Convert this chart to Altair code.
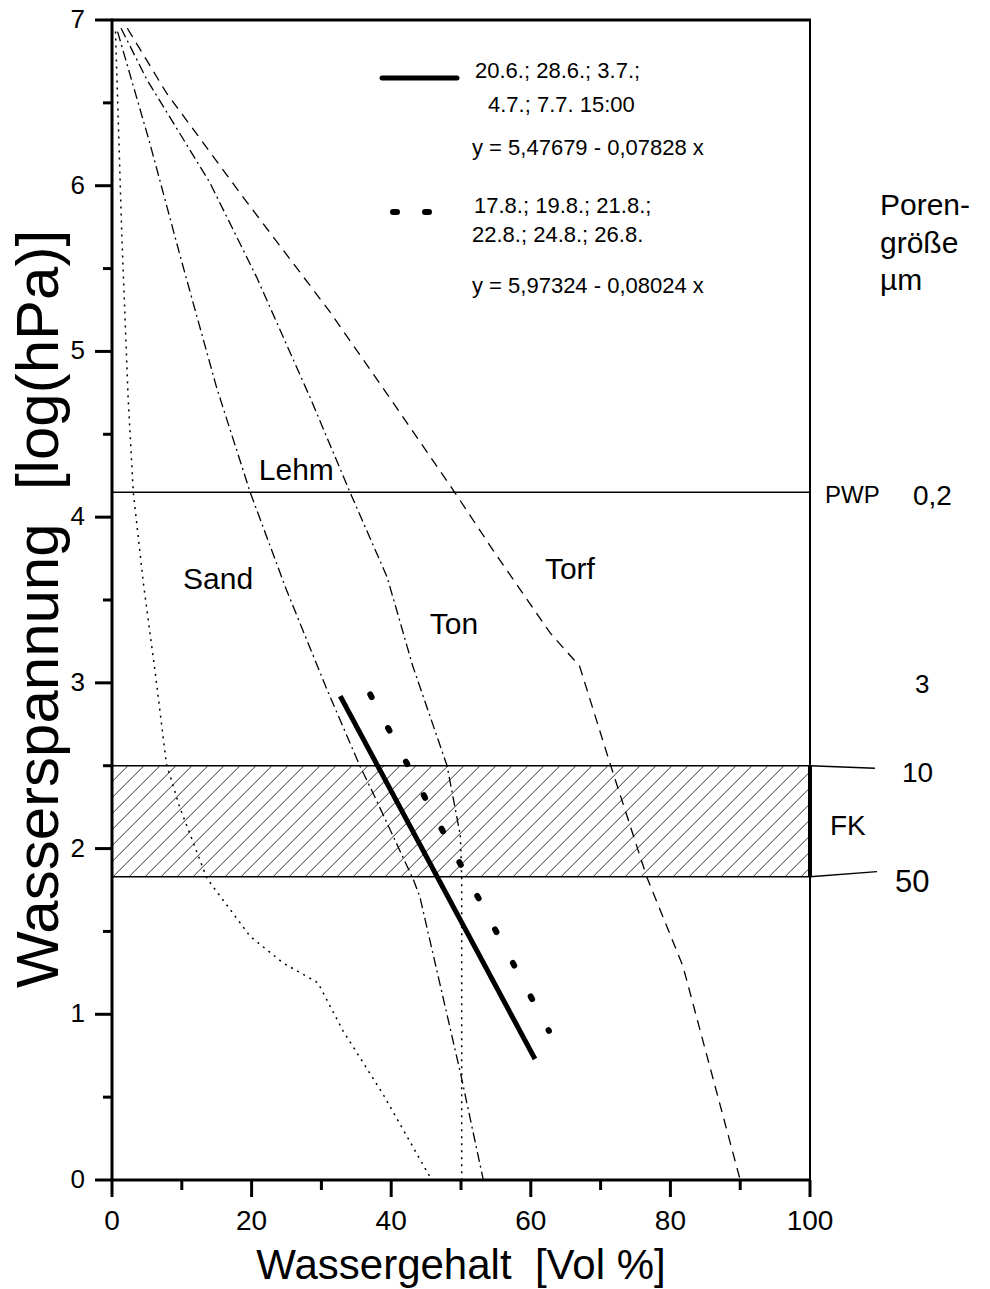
import altair as alt
import pandas as pd
import numpy as np

FONT = "Liberation Sans"

# ---- soil water retention curves (Wassergehalt [Vol %], log(hPa)) ----
sand_x = [0.5, 1.4, 2.3, 3.05, 4.5, 6.2, 7.8, 9.7, 13.6, 19.8, 24.5, 29.5, 33.1, 38.8, 45.8]
sand_y = [6.93, 5.71, 4.73, 4.15, 3.6, 3.06, 2.51, 2.25, 1.82, 1.47, 1.31, 1.19, 0.9, 0.52, 0.0]
lehm_x = [0.8, 5.4, 10.0, 15.0, 19.8, 25.0, 30.8, 35.5, 37.9, 43.2, 44.1, 49.9, 53.2]
lehm_y = [6.93, 6.26, 5.54, 4.78, 4.15, 3.56, 2.96, 2.5, 2.29, 1.81, 1.71, 0.65, 0.0]
ton_x = [1.3, 5.0, 14.0, 20.7, 28.4, 34.1, 39.4, 43.1, 48.0, 49.9]
ton_y = [6.95, 6.64, 6.02, 5.45, 4.72, 4.15, 3.64, 3.1, 2.5, 2.08]
ton_tail_x = [49.9, 50.1, 50.1]
ton_tail_y = [2.08, 1.83, 0.0]
torf_x = [2.2, 7.8, 18.8, 31.2, 39.8, 49.1, 54.6, 62.8, 67.0, 71.3, 76.6, 81.8, 90.0]
torf_y = [6.95, 6.56, 5.93, 5.24, 4.72, 4.15, 3.8, 3.3, 3.1, 2.52, 1.83, 1.29, 0.0]

# ---- regression lines ----
fit1_x = [32.7, 60.6]
fit1_y = [2.92, 0.73]
fit2_x = [37.0, 62.6]
fit2_y = [2.93, 0.90]

# ---- reference levels ----
pwp_level = 4.15
fk_top = 2.5
fk_bottom = 1.83
ext_top = [100, 109.3, 2.5, 2.485]
ext_bottom = [100, 109.6, 1.83, 1.861]

# ---- ticks ----
x_major = [0, 20, 40, 60, 80, 100]
x_labels = ["0", "20", "40", "60", "80", "100"]
x_minor = [10, 30, 50, 70, 90]
y_major = [0, 1, 2, 3, 4, 5, 6, 7]
y_labels = ["0", "1", "2", "3", "4", "5", "6", "7"]
y_minor = [0.5, 1.5, 2.5, 3.5, 4.5, 5.5, 6.5]

x_title = "Wassergehalt\u00a0\u00a0[Vol %]"
y_title = "Wasserspannung\u00a0\u00a0[log(hPa)]"

soil_labels = ["Sand", "Lehm", "Ton", "Torf"]
soil_label_x = [15.2, 26.4, 49.0, 65.6]
soil_label_y = [3.62, 4.28, 3.35, 3.68]

legend_lines = ["20.6.; 28.6.; 3.7.;", "4.7.; 7.7. 15:00", "y = 5,47679 - 0,07828 x",
                "17.8.; 19.8.; 21.8.;", "22.8.; 24.8.; 26.8.", "y = 5,97324 - 0,08024 x"]
legend_px = [475, 488, 472, 474, 472, 472]
legend_py = [78, 112, 155, 213, 242, 293]

right_labels = ["Poren-", "größe", "µm", "PWP", "0,2", "3", "10", "FK", "50"]
right_px = [880, 880, 880, 825, 913, 915, 902, 830, 895]
right_py = [215, 253, 290, 503, 505, 693, 782, 835, 892]
right_size = [30, 30, 30, 24, 28, 26, 28, 28, 31]

W, H = 698, 1160
OX, OY = 112, 20
MAJOR, XMINOR, YMINOR = 17, 10, 9

xs = alt.Scale(domain=[0, 100], nice=False, zero=False)
ys = alt.Scale(domain=[0, 7], nice=False, zero=False)
one = pd.DataFrame({"a": [0]})


def curve_df(xv, yv):
    return pd.DataFrame({"x": xv, "y": yv, "i": range(len(xv))})


def curve(xv, yv, dash, width=1.3, cap="butt"):
    return alt.Chart(curve_df(xv, yv)).mark_line(
        color="black", strokeWidth=width, strokeDash=dash, strokeCap=cap
    ).encode(
        x=alt.X("x:Q", scale=xs, axis=None),
        y=alt.Y("y:Q", scale=ys, axis=None),
        order="i:Q",
    )


def pixel_rule(x, x2, y, y2, width, color="black"):
    return alt.Chart(one).mark_rule(color=color, strokeWidth=width).encode(
        x=alt.value(x), x2=alt.value(x2), y=alt.value(y), y2=alt.value(y2)
    )


# hatch pattern of the FK band (decoration)
spacing = 16 / (W / 100)
dx = (fk_top - fk_bottom) * (H / 7) / (W / 100)
starts = np.arange(-dx, 100 + spacing, spacing)
hatch_df = pd.DataFrame({"x": starts, "x2": starts + dx, "y": fk_bottom, "y2": fk_top})
hatch = alt.Chart(hatch_df).mark_rule(color="black", strokeWidth=0.8, clip=True).encode(
    x=alt.X("x:Q", scale=xs, axis=None), x2="x2:Q",
    y=alt.Y("y:Q", scale=ys, axis=None), y2="y2:Q"
)

levels_df = pd.DataFrame({"y": [fk_top, fk_bottom, pwp_level]})
levels = alt.Chart(levels_df).mark_rule(color="black", strokeWidth=1.4).encode(
    y=alt.Y("y:Q", scale=ys, axis=None)
)

# frame / axis lines
frame = [
    pixel_rule(0, W + 1, 0, 0, 3),          # top
    pixel_rule(W, W, 0, H, 2),              # right
    pixel_rule(0, 0, -1.5, H + 1.5, 3),     # left axis line
    pixel_rule(-1.5, W + 1, H, H, 3),       # bottom axis line
]

edge = alt.Chart(pd.DataFrame({"x": [100], "y": [fk_bottom], "y2": [fk_top]})).mark_rule(
    color="black", strokeWidth=4
).encode(x=alt.X("x:Q", scale=xs, axis=None), y=alt.Y("y:Q", scale=ys, axis=None), y2="y2:Q")

ext_df = pd.DataFrame({
    "x": [ext_top[0], ext_bottom[0]], "x2": [ext_top[1], ext_bottom[1]],
    "y": [ext_top[2], ext_bottom[2]], "y2": [ext_top[3], ext_bottom[3]],
})
ext = alt.Chart(ext_df).mark_rule(color="black", strokeWidth=1.4).encode(
    x=alt.X("x:Q", scale=xs, axis=None), x2="x2:Q",
    y=alt.Y("y:Q", scale=ys, axis=None), y2="y2:Q"
)


# tick marks
def xtick_layer(values, length, color="black"):
    return alt.Chart(pd.DataFrame({"v": values})).mark_rule(color=color, strokeWidth=3).encode(
        x=alt.X("v:Q", scale=xs, axis=None), y=alt.value(H), y2=alt.value(H + length)
    )


def ytick_layer(values, length, color="black"):
    return alt.Chart(pd.DataFrame({"v": values})).mark_rule(color=color, strokeWidth=3).encode(
        y=alt.Y("v:Q", scale=ys, axis=None), x=alt.value(-length), x2=alt.value(0)
    )


xt_major = xtick_layer(x_major, MAJOR)
xt_minor = xtick_layer(x_minor, XMINOR)
yt_major = ytick_layer(y_major, MAJOR)
yt_minor = ytick_layer(y_minor, YMINOR)

xlabels = alt.Chart(pd.DataFrame({"v": x_major, "lab": x_labels})).mark_text(
    font=FONT, fontSize=28, color="black", align="center", baseline="alphabetic"
).encode(x=alt.X("v:Q", scale=xs, axis=None), y=alt.value(H + 50), text="lab:N")

ylabels = alt.Chart(pd.DataFrame({"v": y_major, "lab": y_labels})).mark_text(
    font=FONT, fontSize=26, color="black", align="right", baseline="middle"
).encode(y=alt.Y("v:Q", scale=ys, axis=None), x=alt.value(-27), text="lab:N")

# axis titles
xtitle = alt.Chart(one).mark_text(
    font=FONT, fontSize=42, color="black", align="center", baseline="alphabetic", text=x_title
).encode(x=alt.value(W / 2), y=alt.value(H + 99))
ytitle = alt.Chart(one).mark_text(
    font=FONT, fontSize=60, color="black", align="center", baseline="alphabetic",
    angle=270, text=y_title
).encode(x=alt.value(58 - OX), y=alt.value(609 - OY))

sand = curve(sand_x, sand_y, [2, 5], 1.5)
lehm = curve(lehm_x, lehm_y, [10, 4, 2, 4])
ton = curve(ton_x, ton_y, [10, 4, 2, 4])
ton_tail = curve(ton_tail_x, ton_tail_y, [2, 5], 1.5)
torf = curve(torf_x, torf_y, [10, 7])

fit1 = curve(fit1_x, fit1_y, [1, 0], 5)
fit2 = curve(fit2_x, fit2_y, [3, 35], 6, "round")

# legend symbols (pixel positions)
leg1 = alt.Chart(one).mark_rule(color="black", strokeWidth=5, strokeCap="round").encode(
    x=alt.value(382 - OX), x2=alt.value(457 - OX), y=alt.value(78 - OY)
)
leg2 = alt.Chart(one).mark_rule(
    color="black", strokeWidth=6, strokeCap="round", strokeDash=[4, 28]
).encode(x=alt.value(393 - OX), x2=alt.value(429 - OX), y=alt.value(212 - OY))

soil_df = pd.DataFrame({"x": soil_label_x, "y": soil_label_y, "t": soil_labels})
soil_text = alt.Chart(soil_df).mark_text(
    font=FONT, fontSize=30, color="black", align="center", baseline="middle"
).encode(x=alt.X("x:Q", scale=xs, axis=None), y=alt.Y("y:Q", scale=ys, axis=None), text="t:N")

leg_df = pd.DataFrame({"px": [p - OX for p in legend_px], "py": [p - OY for p in legend_py], "t": legend_lines})
leg_text = alt.Chart(leg_df).mark_text(
    font=FONT, fontSize=22, color="black", align="left", baseline="alphabetic"
).encode(x=alt.X("px:Q", scale=None), y=alt.Y("py:Q", scale=None), text="t:N")

right_df = pd.DataFrame({
    "px": [p - OX for p in right_px], "py": [p - OY for p in right_py],
    "t": right_labels, "s": right_size,
})
right_text = alt.Chart(right_df).mark_text(
    font=FONT, color="black", align="left", baseline="alphabetic"
).encode(
    x=alt.X("px:Q", scale=None), y=alt.Y("py:Q", scale=None), text="t:N",
    size=alt.Size("s:Q", scale=None, legend=None),
)

chart = alt.layer(
    hatch, levels, *frame, edge, ext, xlabels, ylabels, xtitle, ytitle,
    sand, lehm, ton, ton_tail, torf, fit1, fit2,
    leg1, leg2, soil_text, leg_text, right_text,
    xt_minor, yt_minor, xt_major, yt_major,
).properties(
    width=W, height=H,
    autosize=alt.AutoSizeParams(type="none"),
    padding={"left": OX, "top": OY, "right": 990 - OX - W, "bottom": 1289 - OY - H},
).configure_view(
    stroke=None
).configure(background="white")

chart.save("out.html", embed_options={"renderer": "svg", "actions": False})
